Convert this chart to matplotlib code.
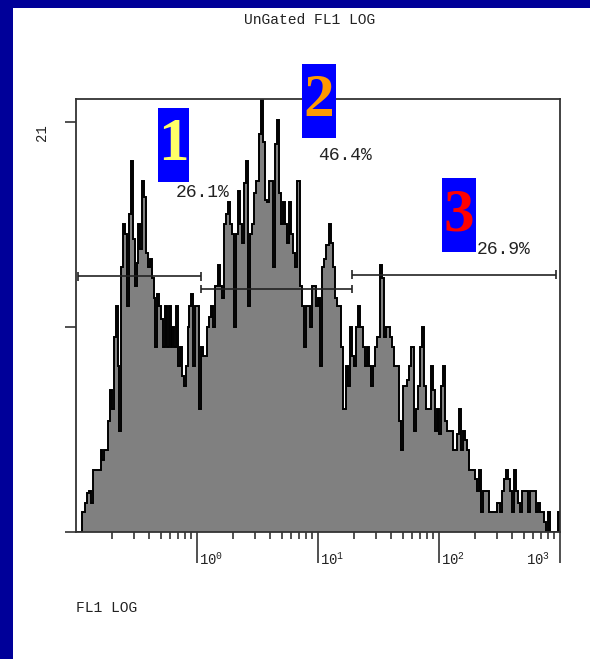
import numpy as np
import matplotlib
matplotlib.use('Agg')
import matplotlib.pyplot as plt
from matplotlib.patches import Rectangle
from matplotlib.ticker import LogLocator, NullFormatter

plt.rcParams['font.family'] = ['Liberation Mono', 'DejaVu Sans Mono']

# FL1 histogram counts, one list per decade (channels spread evenly in log)
dec_m1 = [0, 0, 0, 1.0, 1.0, 1.5, 2.0, 2.1, 1.5, 3.2, 3.2, 3.2, 3.2, 4.2, 3.7, 4.2,
          4.2, 5.7, 7.3, 6.3, 10.0, 11.6, 8.5, 5.2, 13.6, 15.8, 15.3, 11.6, 16.3, 19.0, 15.0, 12.6,
          13.8, 15.8, 14.5, 18.0, 17.2, 14.3, 13.6, 14.0, 13.0, 12.0, 9.5, 12.2, 11.6, 10.9, 9.5, 11.6,
          9.5, 11.6, 9.5, 10.5, 9.5, 11.6, 8.5, 9.5, 8.0, 7.5, 8.5, 10.5, 11.6, 12.2, 8.5, 11.6]
dec_0 = [11.6, 6.3, 9.5, 9.0, 9.0, 10.5, 11.0, 11.6, 10.5, 12.6, 13.7, 12.6, 12.0, 15.8, 16.3,
         16.9, 15.8, 15.3, 10.5, 15.3, 17.5, 15.8, 14.8, 17.9, 19.0, 11.6, 15.3, 15.8, 17.4, 18.0,
         20.4, 23.0, 20.0, 17.0, 16.9, 18.0, 18.0, 13.6, 19.9, 21.1, 17.4, 15.8, 16.9, 15.8, 14.8,
         16.9, 15.3, 14.3, 13.6, 18.0, 12.6, 11.6, 9.5, 11.6, 11.6, 10.5, 12.6, 12.6, 11.6]
dec_1 = [12.0, 8.5, 13.6, 14.0, 14.7, 15.8, 14.8, 13.6, 12.0, 11.6, 11.6, 9.5, 6.3, 8.5, 7.5,
         10.5, 9.0, 8.5, 10.5, 11.6, 10.5, 9.5, 8.5, 9.5, 8.5, 7.5, 8.5, 9.5, 10.0, 13.7,
         13.0, 10.0, 10.5, 10.5, 10.0, 9.5, 8.5, 8.5, 5.7, 4.2, 7.5, 7.5, 7.8, 8.5, 9.5,
         5.2, 6.3, 7.5, 9.5, 10.5, 7.5, 6.3, 6.3, 8.5, 7.3, 5.2, 6.3]
dec_2 = [5.0, 7.5, 8.5, 5.7, 5.2, 5.2, 5.2, 4.2, 4.2, 5.0, 6.3, 4.2, 5.2, 4.7, 4.2,
         3.2, 3.2, 3.2, 2.7, 2.1, 3.2, 1.0, 2.1, 2.1, 2.1, 1.0, 1.0, 1.0, 1.0, 1.5,
         1.0, 2.1, 2.7, 3.2, 2.7, 2.1, 1.0, 3.2, 2.1, 1.5, 1.0, 2.1, 2.1, 2.1, 1.0,
         2.1, 2.1, 2.1, 1.0, 1.5, 1.0, 1.0, 0.5, 0, 1.0, 0, 0, 0, 0, 1.0]
decades = [(-1, dec_m1), (0, dec_0), (1, dec_1), (2, dec_2)]

# marker gates
gate_lo = [0.104, 1.07, 19.2]
gate_hi = [1.07, 19.2, 923]
gate_y = [13.1, 12.45, 13.2]
gate_pct = ['26.1%', '46.4%', '26.9%']
pct_x = [0.667, 10.07, 206]
pct_y = [17.4, 19.3, 14.5]
gate_num = ['1', '2', '3']
num_color = ['#FFFF66', '#FF9900', '#FF0000']

counts = np.concatenate([c for _, c in decades])
edges = np.concatenate([np.logspace(d, d + 1, len(c) + 1)[:-1] for d, c in decades] + [[1000]])

W, H = 590, 659
fig = plt.figure(figsize=(W / 100, H / 100), dpi=100)
fig.patch.set_facecolor('#000099')
fig.add_artist(Rectangle((13 / W, 0), 1, 1 - 7.5 / H, transform=fig.transFigure,
                         facecolor='white', edgecolor='none', zorder=-1))

ax = fig.add_axes([76 / W, (H - 532) / H, (560 - 76) / W, (532 - 99) / H])
ax.set_facecolor('white')
ax.set_xscale('log')
ax.set_xlim(0.1, 1000)
ax.set_ylim(0, 22.2)

ax.stairs(counts, edges, fill=True, color='#808080', lw=0)
ax.stairs(counts, edges, color='black', lw=1.4)

for s in ax.spines.values():
    s.set_color('#333333')
    s.set_linewidth(1.3)

ax.set_xticks([1, 10, 100, 1000])
ax.xaxis.set_minor_locator(LogLocator(base=10, subs=np.arange(2, 10)))
ax.xaxis.set_minor_formatter(NullFormatter())
ax.tick_params(axis='x', which='major', length=22, width=1.2, color='#333333',
               direction='out', labelbottom=False)
ax.tick_params(axis='x', which='minor', length=5, width=1.2, color='#333333', direction='out')
ax.set_yticks([0, 10.5, 21])
ax.tick_params(axis='y', length=8, width=1.2, color='#333333', direction='out', labelleft=False)

for v, e in zip([1, 10, 100, 1000], [0, 1, 2, 3]):
    last = v == 1000
    ax.annotate(r'$\mathregular{10^{%d}}$' % e, xy=(v, 0), xycoords=('data', 'axes fraction'),
                xytext=(-7 if last else 1.5, -23.5), textcoords='offset points',
                ha='right' if last else 'left', va='baseline', fontsize=10, color='#222222')

ax.annotate('21', xy=(0, 21), xycoords=('axes fraction', 'data'), xytext=(-24.5, -7),
            textcoords='offset points', rotation=90, ha='center', va='center',
            fontsize=10, color='#222222')

# gates with end bars
ax.hlines(gate_y, gate_lo, gate_hi, color='#222222', lw=1.2)
ax.vlines(gate_lo, np.array(gate_y) - 0.22, np.array(gate_y) + 0.22, color='#222222', lw=1.2)
ax.vlines(gate_hi, np.array(gate_y) - 0.22, np.array(gate_y) + 0.22, color='#222222', lw=1.2)
for x, y, t in zip(pct_x, pct_y, gate_pct):
    ax.text(x, y, t, ha='left', va='center', fontsize=13, color='#222222')

fig.text(310 / W, 1 - 20 / H, 'UnGated FL1 LOG', ha='center', va='center',
         fontsize=10.5, color='#222222')
fig.text(76 / W, 1 - 608 / H, 'FL1 LOG', ha='left', va='center', fontsize=10.5, color='#222222')

# numbered region labels
boxes = [(158, 108, 31, 74), (302, 64, 34, 74), (442, 178, 34, 74)]
for (bx, by, bw, bh), n, col in zip(boxes, gate_num, num_color):
    fig.add_artist(Rectangle((bx / W, 1 - (by + bh) / H), bw / W, bh / H,
                             transform=fig.transFigure, facecolor='#0000FF',
                             edgecolor='none', zorder=5))
    fig.text((bx + bw / 2) / W, 1 - (by + bh / 2) / H, n, ha='center', va='center',
             fontsize=44, family='Liberation Serif', weight='bold', color=col, zorder=6)

fig.savefig('out.png', dpi=100, facecolor=fig.get_facecolor())
